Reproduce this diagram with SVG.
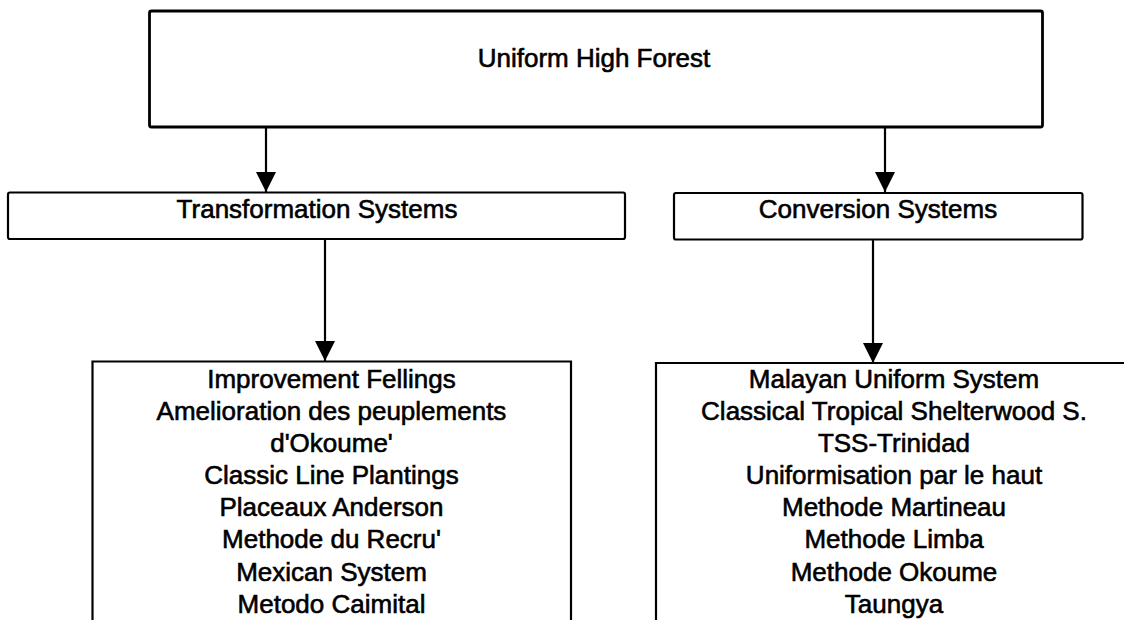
<svg xmlns="http://www.w3.org/2000/svg" width="1124" height="620" viewBox="0 0 1124 620">
<style>
.box{fill:#fff;stroke:#000;stroke-width:2.2}
.top{stroke-width:2.8}
.t{font-family:"Liberation Sans",Arial,sans-serif;font-size:26px;fill:#000;stroke:#000;stroke-width:0.6;text-anchor:middle}
.c{stroke:#000;stroke-width:2.2;fill:none;marker-end:url(#ah)}
</style>
<defs>
<marker id="ah" markerWidth="20" markerHeight="20" refX="20" refY="10" orient="auto" markerUnits="userSpaceOnUse">
<path d="M0,0 L20,10 L0,20 Z" fill="#000"/>
</marker>
</defs>
<rect width="1124" height="620" fill="#fff"/>
<g id="connectors">
<line class="c" x1="266" y1="128" x2="266" y2="192"/>
<line class="c" x1="885" y1="128" x2="885" y2="192"/>
<line class="c" x1="325" y1="239" x2="325" y2="361"/>
<line class="c" x1="873" y1="240" x2="873" y2="363"/>
</g>
<g id="uniform-high-forest">
<rect class="box top" x="149.5" y="11" width="893" height="116" rx="2"/>
<text class="t" x="594" y="67">Uniform High Forest</text>
</g>
<g id="transformation-systems">
<rect class="box" x="8" y="192.5" width="617" height="46.5" rx="2"/>
<text class="t" x="317" y="217.5">Transformation Systems</text>
</g>
<g id="conversion-systems">
<rect class="box" x="674" y="193" width="408.5" height="46.5" rx="2"/>
<text class="t" x="878" y="217.5">Conversion Systems</text>
</g>
<g id="transformation-list">
<path class="box" d="M92.5,625 V361.5 H571 V625" />
<text class="t" x="331.5" y="388">Improvement Fellings</text>
<text class="t" x="331.5" y="420">Amelioration des peuplements</text>
<text class="t" x="331.5" y="452">d'Okoume'</text>
<text class="t" x="331.5" y="484">Classic Line Plantings</text>
<text class="t" x="331.5" y="516">Placeaux Anderson</text>
<text class="t" x="331.5" y="548">Methode du Recru'</text>
<text class="t" x="331.5" y="581">Mexican System</text>
<text class="t" x="331.5" y="613">Metodo Caimital</text>
</g>
<g id="conversion-list">
<path class="box" d="M656,625 V363 H1130" />
<text class="t" x="894" y="388">Malayan Uniform System</text>
<text class="t" x="894" y="420">Classical Tropical Shelterwood S.</text>
<text class="t" x="894" y="452">TSS-Trinidad</text>
<text class="t" x="894" y="484">Uniformisation par le haut</text>
<text class="t" x="894" y="516">Methode Martineau</text>
<text class="t" x="894" y="548">Methode Limba</text>
<text class="t" x="894" y="581">Methode Okoume</text>
<text class="t" x="894" y="613">Taungya</text>
</g>
</svg>
